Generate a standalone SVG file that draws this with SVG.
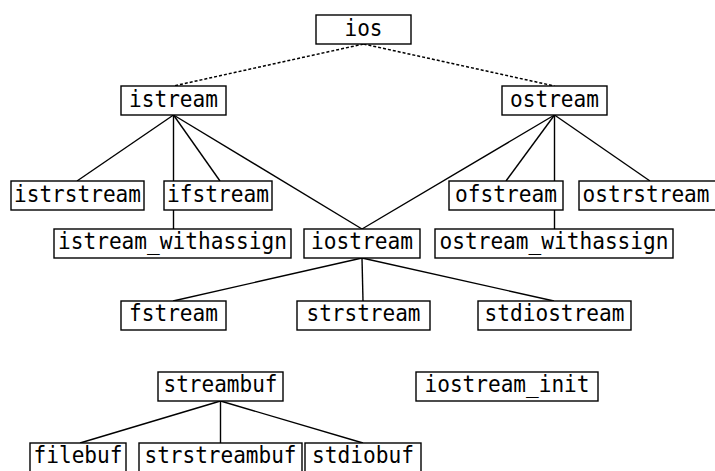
<svg xmlns="http://www.w3.org/2000/svg" width="715" height="471" viewBox="0 0 715 471">
<style>
.n rect{fill:#fff;stroke:#000;stroke-width:1.4}
.n text{font-family:"DejaVu Sans Mono","Liberation Mono",monospace;font-size:23px;text-anchor:middle;fill:#000}
.c line{stroke:#000;stroke-width:1.4}
.c .d{stroke-dasharray:3 2;stroke-width:1.5}
</style>
<rect width="715" height="471" fill="#fff"/>
<g id="connectors" class="c">
<line class="d" x1="363.5" y1="44" x2="173.5" y2="86"/>
<line class="d" x1="363.5" y1="44" x2="554.5" y2="86"/>
<line x1="173.5" y1="115" x2="77" y2="181"/>
<line x1="173.5" y1="115" x2="220" y2="181"/>
<line x1="173.5" y1="115" x2="173.5" y2="229"/>
<line x1="173.5" y1="115" x2="362" y2="229"/>
<line x1="554.5" y1="115" x2="362" y2="229"/>
<line x1="554.5" y1="115" x2="506" y2="181"/>
<line x1="554.5" y1="115" x2="554.5" y2="229"/>
<line x1="554.5" y1="115" x2="650" y2="181"/>
<line x1="362" y1="258" x2="173" y2="301"/>
<line x1="362" y1="258" x2="363" y2="301"/>
<line x1="362" y1="258" x2="554" y2="301"/>
<line x1="220.5" y1="401" x2="80" y2="443"/>
<line x1="220.5" y1="401" x2="220.5" y2="443"/>
<line x1="220.5" y1="401" x2="363" y2="443"/>
</g>
<g id="ios" class="n"><rect x="316" y="15" width="95" height="29"/><text x="363.5" y="36" textLength="38" lengthAdjust="spacingAndGlyphs">ios</text></g>
<g id="istream" class="n"><rect x="121" y="86" width="105" height="29"/><text x="173.5" y="107" textLength="89" lengthAdjust="spacingAndGlyphs">istream</text></g>
<g id="ostream" class="n"><rect x="502" y="86" width="105" height="29"/><text x="554.5" y="107" textLength="89" lengthAdjust="spacingAndGlyphs">ostream</text></g>
<g id="istrstream" class="n"><rect x="11" y="181" width="133" height="29"/><text x="77.5" y="202" textLength="127" lengthAdjust="spacingAndGlyphs">istrstream</text></g>
<g id="ifstream" class="n"><rect x="164" y="181" width="108" height="29"/><text x="218" y="202" textLength="102" lengthAdjust="spacingAndGlyphs">ifstream</text></g>
<g id="ofstream" class="n"><rect x="449" y="181" width="114" height="29"/><text x="506" y="202" textLength="102" lengthAdjust="spacingAndGlyphs">ofstream</text></g>
<g id="ostrstream" class="n"><rect x="579" y="181" width="137" height="29"/><text x="646" y="202" textLength="127" lengthAdjust="spacingAndGlyphs">ostrstream</text></g>
<g id="istream_withassign" class="n"><rect x="54" y="229" width="237" height="29"/><text x="172.5" y="249" textLength="229" lengthAdjust="spacingAndGlyphs">istream_withassign</text></g>
<g id="iostream" class="n"><rect x="304" y="229" width="116" height="29"/><text x="362" y="249" textLength="102" lengthAdjust="spacingAndGlyphs">iostream</text></g>
<g id="ostream_withassign" class="n"><rect x="435" y="229" width="238" height="29"/><text x="554" y="249" textLength="229" lengthAdjust="spacingAndGlyphs">ostream_withassign</text></g>
<g id="fstream" class="n"><rect x="121" y="301" width="105" height="29"/><text x="173.5" y="321" textLength="89" lengthAdjust="spacingAndGlyphs">fstream</text></g>
<g id="strstream" class="n"><rect x="297" y="301" width="133" height="29"/><text x="363.5" y="321" textLength="114" lengthAdjust="spacingAndGlyphs">strstream</text></g>
<g id="stdiostream" class="n"><rect x="478" y="301" width="153" height="29"/><text x="554.5" y="321" textLength="140" lengthAdjust="spacingAndGlyphs">stdiostream</text></g>
<g id="streambuf" class="n"><rect x="158" y="372" width="125" height="29"/><text x="220.5" y="392" textLength="114" lengthAdjust="spacingAndGlyphs">streambuf</text></g>
<g id="iostream_init" class="n"><rect x="416" y="372" width="182" height="29"/><text x="507" y="392" textLength="165" lengthAdjust="spacingAndGlyphs">iostream_init</text></g>
<g id="filebuf" class="n"><rect x="30" y="443" width="96" height="29"/><text x="78" y="463" textLength="89" lengthAdjust="spacingAndGlyphs">filebuf</text></g>
<g id="strstreambuf" class="n"><rect x="139" y="443" width="163" height="29"/><text x="220.5" y="463" textLength="152" lengthAdjust="spacingAndGlyphs">strstreambuf</text></g>
<g id="stdiobuf" class="n"><rect x="305" y="443" width="116" height="29"/><text x="363" y="463" textLength="102" lengthAdjust="spacingAndGlyphs">stdiobuf</text></g>
</svg>
